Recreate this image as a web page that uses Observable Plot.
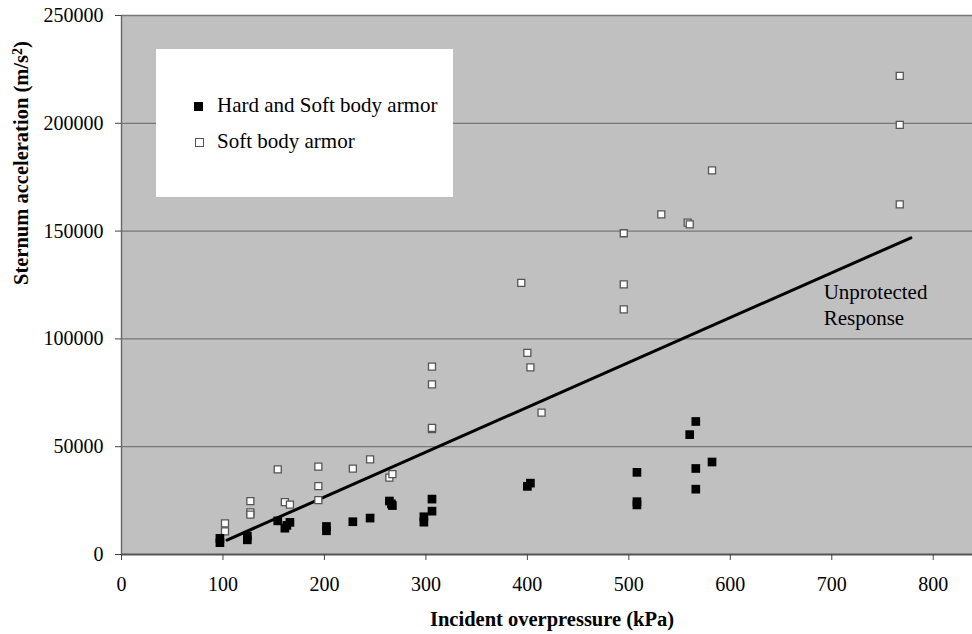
<!DOCTYPE html>
<html>
<head>
<meta charset="utf-8">
<script src="https://cdn.jsdelivr.net/npm/d3@7"></script>
<script src="https://cdn.jsdelivr.net/npm/@observablehq/plot@0.6"></script>
<style>
  body { margin: 0; background: white; }
  #wrap { position: relative; width: 972px; height: 634px; font-family: "Liberation Serif", "Times New Roman", serif; }
  #legend { position: absolute; left: 156px; top: 49px; width: 297px; height: 148px; background: white; }
  .sym { position: absolute; box-sizing: border-box; }
  .lab { position: absolute; font-size: 21px; line-height: 21px; color: black; white-space: nowrap; font-family: "Liberation Serif", "Times New Roman", serif; }
</style>
</head>
<body>
<div id="wrap"></div>
<script>
// Categories / series names
const seriesNames = ["Hard and Soft body armor", "Soft body armor"];

// Hard and Soft body armor: incident overpressure (kPa)
const hardX = [97, 97, 124, 124, 154, 161, 163, 166, 202, 202, 228, 245, 264, 266, 267, 298, 298, 306, 306, 400, 403, 508, 508, 508, 560, 566, 566, 566, 582];
// Hard and Soft body armor: sternum acceleration (m/s^2)
const hardY = [7500, 5500, 8500, 6800, 15600, 12200, 13500, 14900, 13000, 11000, 15200, 16900, 24800, 23500, 22700, 17500, 15000, 25700, 20100, 31600, 33100, 38100, 24500, 23000, 55600, 61700, 39900, 30300, 42900];

// Soft body armor
const softX = [102, 102, 127, 127, 127, 154, 161, 166, 194, 194, 194, 228, 245, 264, 267, 306, 306, 306, 306, 394, 400, 403, 414, 495, 495, 495, 532, 558, 560, 582, 767, 767, 767];
const softY = [14400, 10700, 24800, 19500, 18500, 39500, 24300, 23100, 40800, 31700, 25200, 39800, 44100, 35700, 37300, 87100, 78900, 58200, 58700, 126000, 93500, 86800, 65800, 149000, 125300, 113700, 157800, 153900, 153100, 178200, 222000, 199300, 162400];

// Unprotected response trend line
const lineX = [104, 778];
const lineY = [6700, 146900];

// Annotation
const noteText = ["Unprotected\nResponse"];
const noteX = [692];
const noteY = [116300];

// Ticks
const xTicks = [0, 100, 200, 300, 400, 500, 600, 700, 800];
const yTicks = [0, 50000, 100000, 150000, 200000, 250000];

const xLabel = "Incident overpressure (kPa)";
const yLabel = "Sternum acceleration (m/s2)";

const hard = hardX.map((x, i) => ({x, y: hardY[i]}));
const soft = softX.map((x, i) => ({x, y: softY[i]}));
const trend = lineX.map((x, i) => ({x, y: lineY[i]}));
const notes = noteText.map((t, i) => ({t, x: noteX[i], y: noteY[i]}));

const chart = Plot.plot({
  width: 972,
  height: 634,
  marginLeft: 121,
  marginRight: 0,
  marginTop: 15,
  marginBottom: 80,
  style: { fontFamily: "Liberation Serif, Times New Roman, serif", fontSize: "20px", background: "white", color: "black", overflow: "visible" },
  x: { domain: [0, 838.7] },
  y: { domain: [0, 250000] },
  marks: [
    Plot.frame({ fill: "#c0c0c0", stroke: null }),
    Plot.gridY(yTicks.slice(1), { stroke: "#767676", strokeOpacity: 1, strokeWidth: 1.3 }),
    Plot.ruleX([0], { stroke: "#666", strokeWidth: 1.4 }),
    Plot.ruleY([0], { stroke: "#555", strokeWidth: 1.8 }),
    Plot.axisX({ ticks: xTicks, tickSize: 6, tickPadding: 16, tickFormat: d => String(d), label: null, stroke: "#444", fill: "black", fontSize: 20 }),
    Plot.axisY({ ticks: yTicks, tickSize: 6, tickPadding: 12, tickFormat: d => String(d), label: null, stroke: "#444", fill: "black", fontSize: 20 }),
    Plot.line(trend, { x: "x", y: "y", stroke: "black", strokeWidth: 3 }),
    Plot.dot(soft, { x: "x", y: "y", symbol: "square", r: 3.95, fill: "white", stroke: "#555", strokeWidth: 1.3 }),
    Plot.dot(hard, { x: "x", y: "y", symbol: "square", r: 4.9, fill: "black", stroke: "none" }),
    Plot.text(notes, { x: "x", y: "y", text: "t", textAnchor: "start", lineAnchor: "middle", lineHeight: 1.25, fontSize: 21, fill: "black" }),
    Plot.text([xLabel], { frameAnchor: "bottom", dy: 71, dx: 5, text: d => d, fontWeight: "bold", fontSize: 20.5, fill: "black" }),
    Plot.text([yLabel], { frameAnchor: "left", dx: -100, rotate: -90, text: d => d, fontWeight: "bold", fontSize: 20.5, fill: "black", className: "ylab" })
  ]
});

// Render the "2" of m/s2 as a superscript
d3.select(chart).selectAll("g.ylab text").each(function () {
  const t = d3.select(this);
  const s = t.text();
  if (s.endsWith("2)")) {
    t.text(null);
    t.append("tspan").text(s.slice(0, -2));
    t.append("tspan").attr("dy", "-0.45em").attr("font-size", "0.68em").text("2");
    t.append("tspan").attr("dy", "0.3em").text(")");
  }
});

const wrap = document.getElementById("wrap");
wrap.appendChild(chart);

// Legend overlay inside the plot area
const legend = document.createElement("div");
legend.id = "legend";
wrap.appendChild(legend);
const items = [
  { name: seriesNames[0], fill: "black", border: "none", size: 9, cx: 198.5, cy: 106, textTop: 94.7 },
  { name: seriesNames[1], fill: "white", border: "1.3px solid #555", size: 8.5, cx: 199.5, cy: 142.5, textTop: 130.7 }
];
items.forEach(it => {
  const s = document.createElement("div");
  s.className = "sym";
  s.style.left = (it.cx - it.size / 2 - 156) + "px";
  s.style.top = (it.cy - it.size / 2 - 49) + "px";
  s.style.width = it.size + "px";
  s.style.height = it.size + "px";
  s.style.background = it.fill;
  s.style.border = it.border;
  legend.appendChild(s);
  const t = document.createElement("div");
  t.className = "lab";
  t.style.left = (217 - 156) + "px";
  t.style.top = (it.textTop - 49) + "px";
  t.textContent = it.name;
  legend.appendChild(t);
});
</script>
</body>
</html>
